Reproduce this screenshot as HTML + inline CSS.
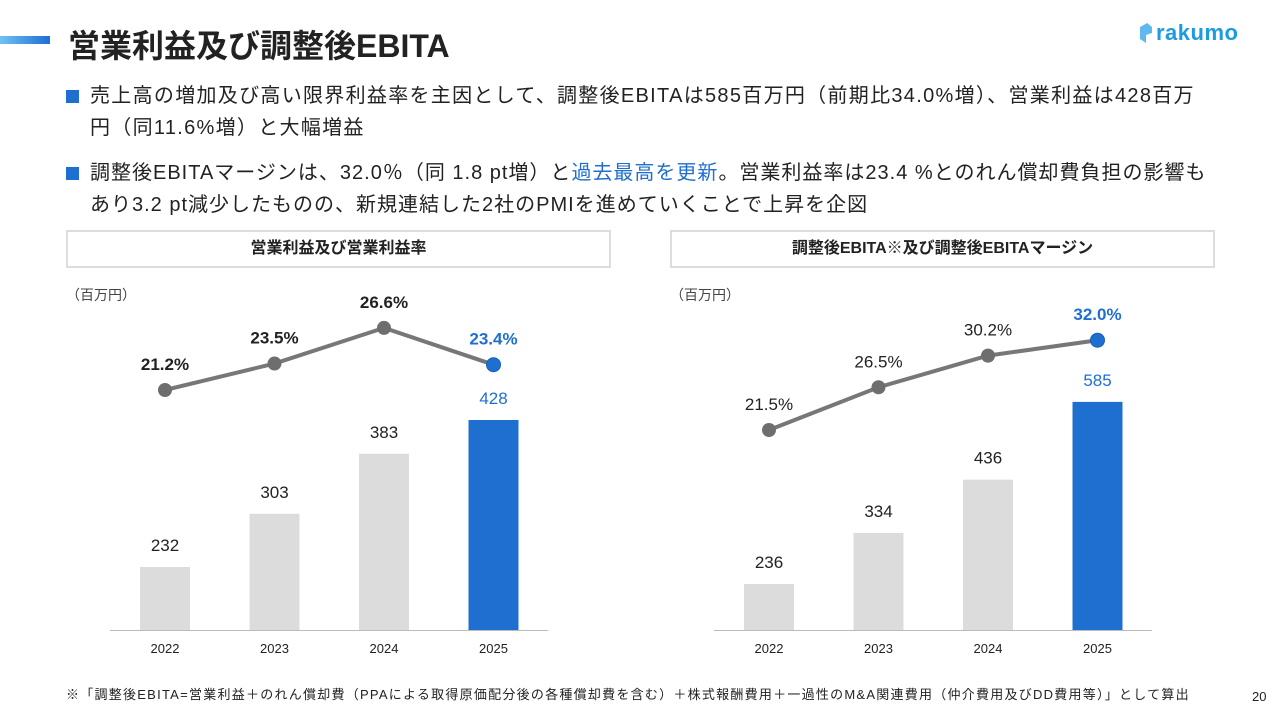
<!DOCTYPE html>
<html><head><meta charset="utf-8">
<style>
*{margin:0;padding:0;box-sizing:border-box}
body{width:1280px;height:720px;background:#fff;position:relative;overflow:hidden;font-family:"Liberation Sans","Noto Sans CJK JP",sans-serif;color:#222}
.abs{position:absolute}
.bul{position:absolute;left:66px;font-size:20px;letter-spacing:1.3px;line-height:32px;color:#222}
.bul .sq{position:absolute;left:0;top:10px;width:13px;height:13px;background:#1f6fd1}
.bul p{padding-left:24px;white-space:nowrap}
.hdr{position:absolute;top:230px;height:38px;border:2px solid #ddd;font-size:16px;font-weight:bold;text-align:center;line-height:34px;color:#222}
</style></head><body>
<div class="abs" style="left:0;top:36px;width:50px;height:8px;background:linear-gradient(90deg,#6fc1f5,#1f6fd1)"></div>
<div class="abs" style="left:68px;top:21px;font-size:32px;font-weight:bold;color:#222">営業利益及び調整後EBITA</div>
<div class="abs" style="left:1140px;top:20px;font-size:22px;font-weight:bold;color:#1d9be0;letter-spacing:0.5px"><span style="display:inline-block;width:12px;height:20px;background:#5fb8ee;margin-right:4px;vertical-align:-3px;clip-path:polygon(0 20%,60% 0,100% 20%,100% 50%,50% 60%,50% 100%,0 80%)"></span>rakumo</div>

<div class="bul" style="top:80px"><span class="sq"></span><p>売上高の増加及び高い限界利益率を主因として、調整後EBITAは585百万円（前期比34.0%増）、営業利益は428百万</p><p>円（同11.6%増）と大幅増益</p></div>
<div class="bul" style="top:157px;letter-spacing:1.0px"><span class="sq"></span><p>調整後EBITAマージンは、32.0％（同 1.8 pt増）と<span style="color:#1f6fd1">過去最高を更新</span>。営業利益率は23.4 %とのれん償却費負担の影響も</p><p>あり3.2 pt減少したものの、新規連結した2社のPMIを進めていくことで上昇を企図</p></div>

<div class="hdr" style="left:66px;width:545px">営業利益及び営業利益率</div>
<div class="hdr" style="left:670px;width:545px">調整後EBITA※及び調整後EBITAマージン</div>

<svg class="abs" style="left:0;top:0" width="1280" height="720" id="chart"></svg>

<div class="abs" style="left:66px;top:684px;font-size:13px;letter-spacing:1.25px;color:#222;white-space:nowrap">※「調整後EBITA=営業利益＋のれん償却費（PPAによる取得原価配分後の各種償却費を含む）＋株式報酬費用＋一過性のM&amp;A関連費用（仲介費用及びDD費用等）」として算出</div>
<div class="abs" style="left:1252px;top:689px;font-size:13px;color:#222">20</div>

<script>
const years = ["2022","2023","2024","2025"];
const opProfit = [232,303,383,428];
const opMargin = [21.2,23.5,26.6,23.4];
const ebita = [236,334,436,585];
const ebitaMargin = [21.5,26.5,30.2,32.0];
const marginLabels1 = ["21.2%","23.5%","26.6%","23.4%"];
const marginLabels2 = ["21.5%","26.5%","30.2%","32.0%"];

const NS="http://www.w3.org/2000/svg";
const svg=document.getElementById('chart');
function mk(t,a,txt){const e=document.createElementNS(NS,t);for(const k in a)e.setAttribute(k,a[k]);if(txt!==undefined)e.textContent=txt;svg.appendChild(e);return e;}

function draw(cfg){
  const {x0,bars,margins,mlabels,barScale,barBase,pBase,pY0,pScale,bold,pre}=cfg;
  const xs=i=>x0+55+i*109.5;
  const yb=v=>630-(v-barBase)*barScale;
  const yp=p=>pY0-(p-pBase)*pScale;
  const u=mk('text',{x:x0-44,y:300,'font-size':14,fill:'#444','font-family':'Liberation Sans,Noto Sans CJK JP,sans-serif'},'（百万円）');
  
  
  const ax=mk('line',{x1:x0,x2:x0+438,y1:630.5,y2:630.5,stroke:'#bbb','stroke-width':1});
  
  
  bars.forEach((v,i)=>{
    const last=i===bars.length-1;
    const r=mk('rect',{x:xs(i)-25,y:yb(v),width:50,height:630-yb(v),fill:last?'#1f6fd1':'#dcdcdc'});
    
    
    const t=mk('text',{x:xs(i),y:yb(v)-16,'text-anchor':'middle','font-size':17,fill:last?'#1f6fd1':'#222'},String(v));
    
    
    const yl=mk('text',{x:xs(i),y:653,'text-anchor':'middle','font-size':13,fill:'#222'},years[i]);
    
    
  });
  const pts=margins.map((p,i)=>xs(i)+','+yp(p)).join(' ');
  const pl=mk('polyline',{points:pts,fill:'none',stroke:'#777','stroke-width':4});
  
  
  margins.forEach((p,i)=>{
    const last=i===margins.length-1;
    const c=mk('circle',{cx:xs(i),cy:yp(p),r:7,fill:last?'#1f6fd1':'#6e6e6e',stroke:last?'#1a5fb4':'none'});
    
    
    const t=mk('text',{x:xs(i),y:yp(p)-20,'text-anchor':'middle','font-size':17,'font-weight':(bold||last)?'bold':'normal',fill:last?'#1f6fd1':'#222'},mlabels[i]);
    
    
  });
}
draw({x0:110,bars:opProfit,margins:opMargin,mlabels:marginLabels1,barScale:0.75,barBase:148,pBase:21.2,pY0:390,pScale:11.5,bold:true,pre:'left'});
draw({x0:714,bars:ebita,margins:ebitaMargin,mlabels:marginLabels2,barScale:0.522,barBase:148,pBase:21.5,pY0:430,pScale:8.55,bold:false,pre:'right'});
</script>
</body></html>
